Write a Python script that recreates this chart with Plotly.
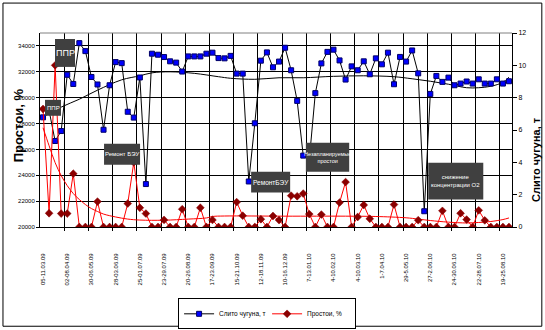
import plotly.graph_objects as go

# ---------------- data ----------------
week_labels = ["05-11.03.09", "02-08.04.09", "30-06.05.09", "28-03.06.09", "25-01.07.09",
               "23-29.07.09", "20-26.08.09", "17-23.09.09", "15-21.10.09", "12-18.11.09",
               "10-16.12.09", "7-13.01.10", "4-10.02.10", "4-10.03.10", "1-7.04.10",
               "29-5.05.10", "27-2.06.10", "24-30.06.10", "22-28.07.10", "19-25.08.10"]
n_weeks = 78

iron_t = [28480, 29000, 26650, 27420, 31770, 31060, 34215, 33600, 31600, 31020,
          27520, 30960, 32750, 32670, 28910, 28460, 31560, 23320, 33400, 33320,
          33140, 32810, 32710, 32020, 33190, 33190, 33190, 33400, 33480, 33060,
          33040, 33230, 31860, 31860, 23520, 28020, 32860, 33500, 32350, 32790,
          33860, 32120, 29750, 25520, 25190, 30350, 32650, 33540, 33710, 32880,
          31400, 32420, 32120, 32810, 31810, 33040, 32580, 33480, 31040, 33150,
          32790, 33650, 31880, 21220, 30290, 31680, 31220, 31550, 30960, 31090,
          31250, 31090, 31420, 31090, 31090, 31420, 31090, 31270]

downtime_pct = [7.3, 0.85, 10.0, 0.83, 0.83, 3.3, 0, 0, 0, 1.57,
                0, 0, 0, 0, 1.45, 4.0, 1.19, 0.83, 0, 0,
                0.44, 0, 0, 1.1, 0, 0, 1.19, 0, 0.44, 0,
                0, 0, 1.54, 0.7, 0, 0, 0.48, 0, 0.68, 0.43,
                0, 1.94, 1.9, 2.07, 0.8, 0, 0.77, 0, 0, 1.51,
                2.78, 0, 0.62, 1.36, 0.51, 0, 0, 0, 1.39, 0,
                0, 0, 0.42, 0, 0, 0, 1.0, 0, 0, 0.85,
                0.46, 0, 1.03, 0.41, 0, 0, 0, 0]

trend_iron_idx = [0, 3, 6, 9, 13, 16, 18, 21, 25, 29, 31, 35, 39, 43, 48, 53, 58, 61, 64, 67, 70, 72, 74, 76, 77]
trend_iron_val = [28500, 29270, 29880, 30580, 31380, 31690, 31920, 32000, 31880, 31620,
                  31500, 31420, 31540, 31540, 31650, 31690, 31620, 31460, 31270, 31040,
                  30770, 30770, 30880, 31190, 31580]

trend_down_idx = [0, 1, 2, 3, 4, 5, 6, 7, 8, 9, 10, 12, 14, 16, 20, 24, 27, 28, 30, 40, 50, 55, 60, 62, 64, 67, 70, 72, 74, 76, 77]
trend_down_val = [6.14, 5.03, 3.98, 3.18, 2.56, 2.07, 1.70, 1.39, 1.14, 0.96, 0.80, 0.62, 0.49, 0.43, 0.42,
                  0.49, 0.56, 0.65, 0.68, 0.67, 0.67, 0.65, 0.57, 0.49, 0.40, 0.30, 0.25, 0.28, 0.34, 0.46, 0.56]

series_names = ["Слито чугуна, т", "Простои, %"]
y_left_title = "Простои, %"
y_right_title = "Слито чугуна, т"

notes = [
    ("ППР", 55, 39, 75, 67, 9),
    ("ППР", 45, 100, 61, 116, 6),
    ("Ремонт БЭУ", 104, 144, 140, 165, 6),
    ("РемонтБЭУ", 251, 172, 290, 193, 6.5),
    ("Незапланируемые<br>простои", 305.7, 143, 349, 172, 5.5),
    ("снижение<br>концентрации О2", 428, 163, 483, 200, 6),
]

# ---------------- layout geometry (pixels) ----------------
W, H = 545, 330
L, R, T, B = 40, 511.7, 33, 227.5


def px(x):
    return (x - L) / (R - L)


def py(y):
    return (B - y) / (B - T)


FONT = "Liberation Sans, Arial, sans-serif"
x_idx = list(range(n_weeks))

fig = go.Figure()
fig.add_trace(go.Scatter(x=trend_iron_idx, y=trend_iron_val, mode="lines", line=dict(color="black", width=1, shape="spline"),
                         showlegend=False, hoverinfo="skip"))
fig.add_trace(go.Scatter(x=trend_down_idx, y=trend_down_val, yaxis="y2", mode="lines",
                         line=dict(color="#ff0000", width=1, shape="spline"), showlegend=False, hoverinfo="skip"))
fig.add_trace(go.Scatter(x=x_idx, y=iron_t, name=series_names[0], mode="lines+markers",
                         line=dict(color="black", width=1),
                         marker=dict(symbol="square", size=5, color="#0000ff", line=dict(color="#000066", width=1))))
fig.add_trace(go.Scatter(x=x_idx, y=downtime_pct, name=series_names[1], yaxis="y2", mode="lines+markers",
                         line=dict(color="#ff0000", width=1),
                         marker=dict(symbol="diamond", size=6, color="#8b0000", line=dict(color="#8b0000", width=0.5))))

shapes = []
annotations = []
# outer chart border
shapes.append(dict(type="rect", xref="paper", yref="paper", x0=px(3), x1=px(541.5), y0=py(327), y1=py(3),
                   line=dict(color="black", width=1), fillcolor="rgba(0,0,0,0)", layer="below"))
# plot area top border (gray)
shapes.append(dict(type="line", xref="paper", yref="paper", x0=0, x1=1, y0=1, y1=1,
                   line=dict(color="#808080", width=1)))
for text, x0, y0, x1, y1, fs in notes:
    shapes.append(dict(type="rect", xref="paper", yref="paper", x0=px(x0), x1=px(x1), y0=py(y1), y1=py(y0),
                       fillcolor="#404040", line=dict(width=0), layer="above"))
    annotations.append(dict(text=text, xref="paper", yref="paper", x=px((x0 + x1) / 2), y=py((y0 + y1) / 2),
                            showarrow=False, xanchor="center", yanchor="middle", align="center",
                            font=dict(family=FONT, size=fs, color="white")))

annotations.append(dict(text=y_left_title, xref="paper", yref="paper", x=px(18.5), y=py(125), textangle=-90,
                        showarrow=False, xanchor="center", yanchor="middle",
                        font=dict(family=FONT, size=13, color="black", weight="bold")))
annotations.append(dict(text=y_right_title, xref="paper", yref="paper", x=px(535), y=py(160), textangle=-90,
                        showarrow=False, xanchor="center", yanchor="middle",
                        font=dict(family=FONT, size=11, color="black", weight="bold")))

fig.update_layout(
    width=W, height=H,
    margin=dict(l=L, r=W - R, t=T, b=H - B, pad=0, autoexpand=False),
    paper_bgcolor="white", plot_bgcolor="white",
    font=dict(family=FONT, size=7, color="black"),
    shapes=shapes, annotations=annotations,
    xaxis=dict(range=[-0.5, n_weeks - 0.5], tickmode="array", tickvals=list(range(0, n_weeks, 4)),
               ticktext=week_labels, tickangle=-90, ticks="", showgrid=False, zeroline=False,
               showline=True, linecolor="black", linewidth=1, ticklabelstandoff=23, automargin=False,
               tickfont=dict(family=FONT, size=6),
               minor=dict(tickmode="array", tickvals=[k * 4 - 0.5 for k in range(1, 20)], showgrid=True,
                          gridcolor="black", gridwidth=1, ticks="outside", ticklen=3, tickcolor="black")),
    yaxis=dict(range=[20000, 35000], tickmode="array", tickvals=list(range(20000, 34001, 2000)),
               tickformat="d", automargin=False,
               showgrid=True, gridcolor="black", gridwidth=1, zeroline=False,
               showline=True, linecolor="black", linewidth=1, ticks="outside", ticklen=3, tickcolor="black",
               tickfont=dict(family=FONT, size=6)),
    yaxis2=dict(range=[0, 12], overlaying="y", side="right", tickmode="array", tickvals=list(range(0, 13, 2)),
                showgrid=False, zeroline=False, showline=True, linecolor="black", linewidth=1, automargin=False,
                ticks="outside", ticklen=4, tickcolor="black", tickfont=dict(family=FONT, size=7)),
    legend=dict(orientation="h", x=px(178), y=py(299), xanchor="left", yanchor="top",
                bordercolor="black", borderwidth=1, bgcolor="white",
                font=dict(family=FONT, size=6.5), itemwidth=30, entrywidth=43, entrywidthmode="pixels",
                tracegroupgap=0),
)

fig.write_html("out.html")
